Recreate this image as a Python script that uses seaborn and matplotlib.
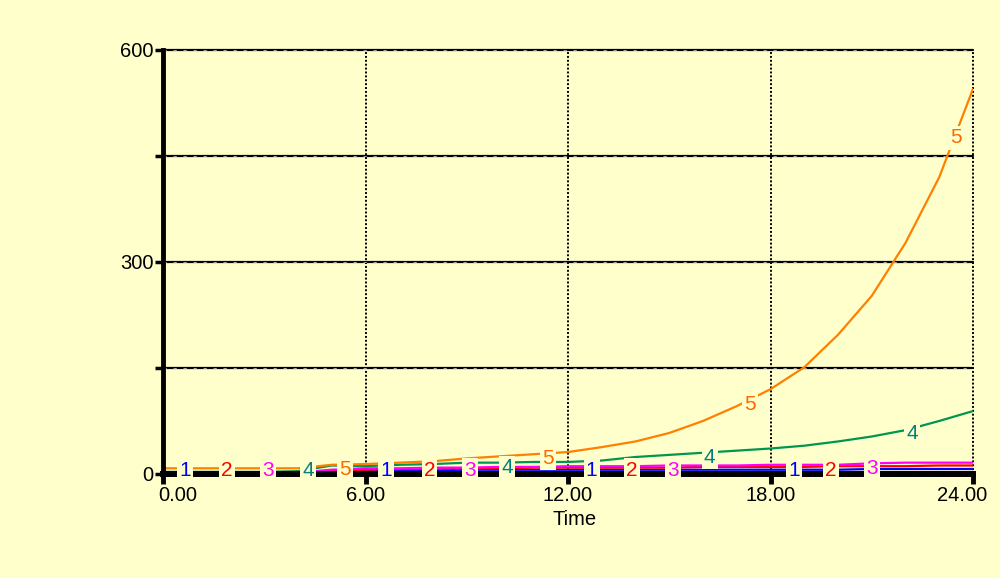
import numpy as np
import pandas as pd
import matplotlib
matplotlib.use("Agg")
import matplotlib.pyplot as plt
import seaborn as sns
from matplotlib.transforms import ScaledTranslation

# ---------------- data ----------------
time = list(range(25))
s1 = [2, 2, 2, 2, 2, 4, 5, 5, 5, 6, 6, 6, 6, 6, 6, 6, 6, 6, 6, 6, 6, 7, 7, 7, 7]
s2 = [2, 2, 2, 2, 2, 5, 6, 7, 7, 8, 8, 9, 9, 9, 9, 9, 10, 10, 10, 10, 11, 11, 11, 12, 12]
s3 = [2, 2, 2, 2, 2, 6, 8, 8, 9, 9, 10, 10, 11, 11, 11, 12, 12, 12, 13, 13, 13, 15, 16, 16, 16]
s4 = [3, 3, 3, 3, 4, 12, 11, 13, 14, 16, 16, 17, 17, 19, 24, 27, 30, 33, 36, 40, 46, 53, 62, 75, 89]
s5 = [8, 8, 8, 8, 8, 13, 14, 16, 18, 22, 25, 28, 31, 38, 46, 58, 75, 96, 120, 151, 197, 252, 327, 420, 545]
series_names = ["1", "2", "3", "4", "5"]
x_ticks = [0, 6, 12, 18, 24]
x_ticklabels = ["0.00", "6.00", "12.00", "18.00", "24.00"]
y_ticks = [0, 150, 300, 450, 600]
y_ticklabels = ["0", "", "300", "", "600"]
# positions (Time) along each curve where its number label is written
label_times = {
    "1": [0.65, 6.6, 12.7, 18.7],
    "2": [1.9, 7.9, 13.9, 19.8],
    "3": [3.1, 9.1, 15.1, 21.0],
    "4": [4.3, 10.2, 16.2, 22.2],
    "5": [5.4, 11.4, 17.4, 23.5],
}

values = [s1, s2, s3, s4, s5]
df = pd.DataFrame({
    "Time": np.tile(time, len(series_names)),
    "value": np.concatenate(values),
    "series": np.repeat(series_names, len(time)),
})

# ---------------- style ----------------
BG = "#FFFFCC"
line_colors = {"1": "#0000FF", "2": "#FF0000", "3": "#FF00FF", "4": "#00964F", "5": "#FF8000"}
label_colors = {"1": "#0000FF", "2": "#FF0000", "3": "#FF00FF", "4": "#008080", "5": "#FF6600"}

sns.set_style("white", {"xtick.bottom": True, "ytick.left": True,
                        "axes.edgecolor": "black", "xtick.color": "black",
                        "ytick.color": "black", "text.color": "black",
                        "axes.labelcolor": "black"})
plt.rcParams["font.family"] = ["Liberation Sans", "DejaVu Sans"]

fig = plt.figure(figsize=(10, 5.78), dpi=100, facecolor=BG)
ax = fig.add_axes([0.163, 0.18, 0.81, 0.7335])
ax.set_facecolor(BG)

sns.lineplot(data=df, x="Time", y="value", hue="series", palette=line_colors,
             hue_order=series_names, linewidth=1.6, legend=False, ax=ax, zorder=3)

ax.set_xlim(0, 24)
ax.set_ylim(0, 600)

# grid
for yv in y_ticks[1:]:
    ax.axhline(yv, color="black", lw=1.6, zorder=1, clip_on=False)
    ax.axhline(yv, color="#BBBBAA", lw=0.6, ls=(0, (4, 8)), zorder=1.1, clip_on=False)
for xv in x_ticks[1:]:
    ax.axvline(xv, color="black", lw=1.4, ls=(0, (1, 1)), zorder=1, clip_on=False)

# spines
for s in ["top", "right"]:
    ax.spines[s].set_visible(False)
ax.spines["left"].set_linewidth(3.5)
ax.spines["bottom"].set_linewidth(4.3)
ax.spines["left"].set_color("black")
ax.spines["bottom"].set_color("black")
ax.spines["left"].set_zorder(4)
ax.spines["bottom"].set_zorder(4)

ax.set_xticks(x_ticks)
ax.set_xticklabels(x_ticklabels)
ax.set_yticks(y_ticks)
ax.set_yticklabels(y_ticklabels)
ax.tick_params(axis="x", length=7, width=3.5, direction="out", labelsize=14.5, pad=2,
               color="black", labelcolor="black")
ax.tick_params(axis="y", length=6, width=2.5, direction="out", labelsize=14.5, pad=1,
               color="black", labelcolor="black")
ax.set_xlabel("Time", fontsize=14.5, labelpad=1, color="black")
ax.xaxis.set_label_coords(0.5075, -0.085)
ax.set_ylabel("")

xl = ax.get_xticklabels()
xl[0].set_horizontalalignment("left")
xl[0].set_transform(xl[0].get_transform() + ScaledTranslation(-5 / 100, 0, fig.dpi_scale_trans))
xl[-1].set_transform(xl[-1].get_transform() + ScaledTranslation(-11 / 100, 0, fig.dpi_scale_trans))

# number labels along the curves
for name, vals in zip(series_names, values):
    for t in label_times[name]:
        v = np.interp(t, time, vals)
        yv = max(v - 7, 5.5)
        ax.text(t, yv, name, color=label_colors[name], fontsize=15, ha="center", va="center",
                zorder=6,
                bbox=dict(boxstyle="square,pad=0.1", facecolor=BG, edgecolor="none"))

fig.savefig("out.png", dpi=100, facecolor=BG)
